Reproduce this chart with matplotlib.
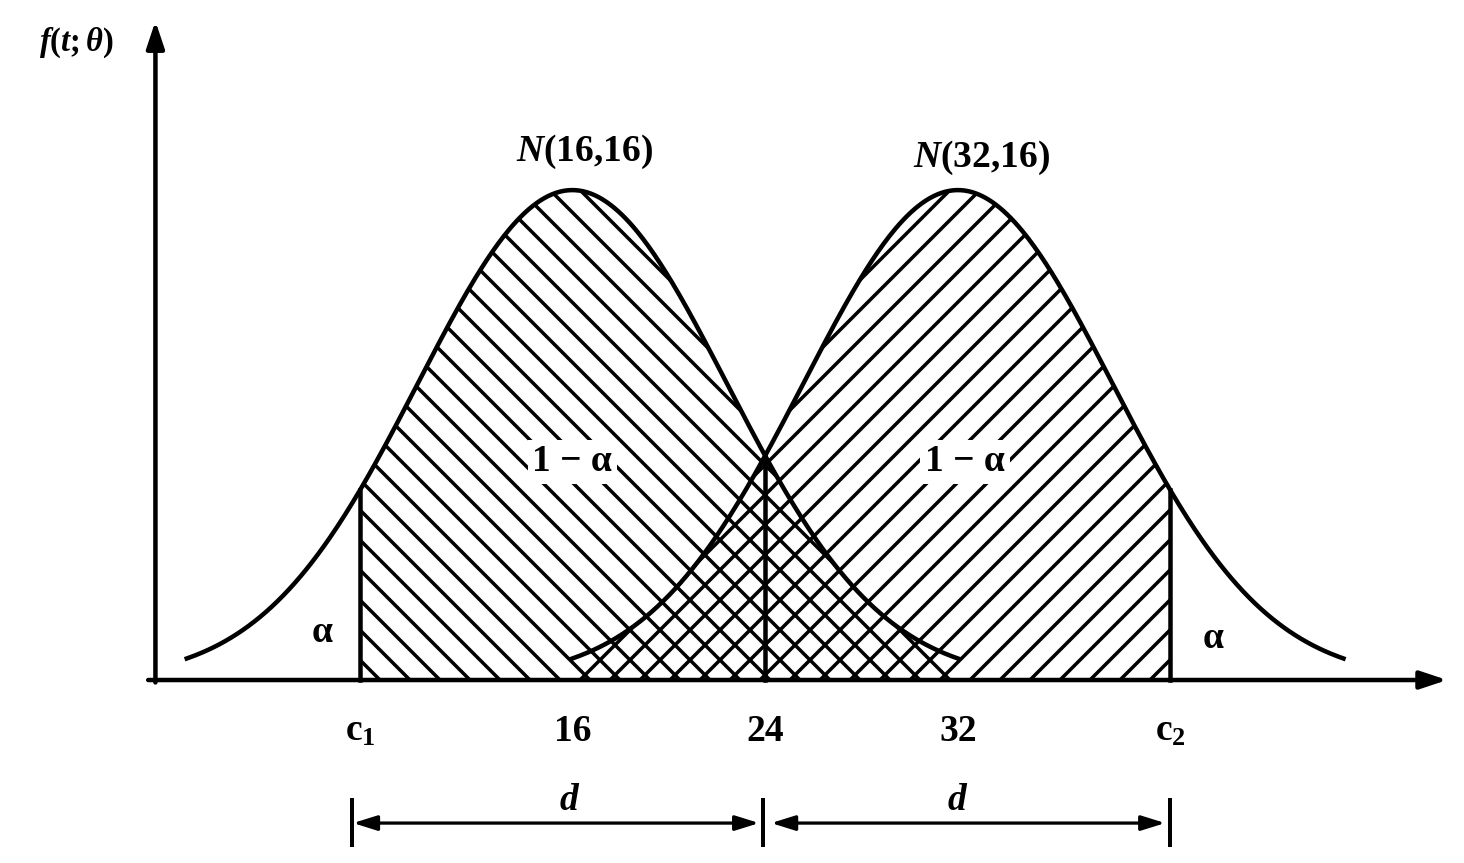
import numpy as np
import matplotlib.pyplot as plt

# the two competing normal models and the cut points
means = [16, 32]
spread = 6.4          # drawn spread of each bell curve
half_span = 16        # each curve is drawn over mean +/- half_span
mid = 24
c1, c2 = 7.2, 40.8
tick_pos = [c1, 16, 24, 32, c2]
tick_text = ['c$_1$', '16', '24', '32', 'c$_2$']
curve_names = ['$N$(16,16)', '$N$(32,16)']

plt.rcParams['font.family'] = ['Liberation Serif', 'DejaVu Serif']
plt.rcParams['font.weight'] = 'bold'
plt.rcParams['mathtext.fontset'] = 'custom'
plt.rcParams['mathtext.rm'] = 'Liberation Serif:bold'
plt.rcParams['mathtext.it'] = 'Liberation Serif:italic:bold'
plt.rcParams['hatch.linewidth'] = 1.4


def dens(x, mu):
    return np.exp(-(x - mu) ** 2 / (2 * spread ** 2)) / (spread * np.sqrt(2 * np.pi))


peak = dens(0, 0)
DPI = 180
fig = plt.figure(figsize=(1464 / DPI, 863 / DPI), dpi=DPI)
ax = fig.add_axes([0, 0, 1, 1])
ax.set_xlim(-7.75, 53.0)
ax.set_ylim(-0.3735 * peak, 1.388 * peak)
ax.axis('off')

lw = 1.8
xl = np.linspace(means[0] - half_span, means[0] + half_span, 400)
xr = np.linspace(means[1] - half_span, means[1] + half_span, 400)

# shaded acceptance regions, overlap ends up cross hatched
xs = xl[xl >= c1]
ax.fill_between(xs, 0, dens(xs, means[0]), facecolor='none', edgecolor='k',
                hatch='\\\\', linewidth=0)
xs = xr[xr <= c2]
ax.fill_between(xs, 0, dens(xs, means[1]), facecolor='none', edgecolor='k',
                hatch='//', linewidth=0)

ax.plot(xl, dens(xl, means[0]), color='k', lw=lw)
ax.plot(xr, dens(xr, means[1]), color='k', lw=lw)

# cut lines
ax.plot([c1, c1], [0, dens(c1, means[0])], color='k', lw=lw)
ax.plot([c2, c2], [0, dens(c2, means[1])], color='k', lw=lw)
ax.plot([mid, mid], [0, dens(mid, means[0])], color='k', lw=lw)

# axes with arrows
arrow = dict(arrowstyle='-|>,head_length=0.9,head_width=0.3', color='k', lw=lw,
             shrinkA=0, shrinkB=0)
ax.annotate('', xy=(52.3, 0), xytext=(-1.6, 0), arrowprops=arrow)
ax.annotate('', xy=(-1.3, 1.345 * peak), xytext=(-1.3, -0.005 * peak), arrowprops=arrow)
ax.text(-4.6, 1.30 * peak, r'$f(t;\theta)$', fontsize=13, ha='center', va='center')

fs = 15
for x, t in zip(tick_pos, tick_text):
    ax.text(x, -0.105 * peak, t, fontsize=fs, ha='center', va='center')

ax.text(16.5, 1.078 * peak, curve_names[0], fontsize=fs, ha='center', va='center')
ax.text(33.0, 1.065 * peak, curve_names[1], fontsize=fs, ha='center', va='center')

box = dict(facecolor='white', edgecolor='none', pad=2)
ax.text(16.0, 0.445 * peak, '1 − α', fontsize=fs, ha='center', va='center', bbox=box)
ax.text(32.3, 0.445 * peak, '1 − α', fontsize=fs, ha='center', va='center', bbox=box)
ax.text(c1 - 1.6, 0.098 * peak, 'α', fontsize=fs, ha='center', va='center')
ax.text(c2 + 1.8, 0.085 * peak, 'α', fontsize=fs, ha='center', va='center')

# distance markers d below the axis
dim = dict(arrowstyle='<|-|>,head_length=0.8,head_width=0.25', color='k', lw=1.3,
           shrinkA=0, shrinkB=0)
ya = -0.292 * peak
ax.annotate('', xy=(mid - 0.25, ya), xytext=(c1 - 0.3, ya), arrowprops=dim)
ax.annotate('', xy=(c2 - 0.2, ya), xytext=(mid + 0.25, ya), arrowprops=dim)
for x in [c1 - 0.35, mid - 0.1, c2 + 0.0]:
    ax.plot([x, x], [-0.245 * peak, -0.337 * peak], color='k', lw=1.6)
ax.text(15.9, -0.245 * peak, '$d$', fontsize=fs, ha='center', va='center')
ax.text(32.0, -0.245 * peak, '$d$', fontsize=fs, ha='center', va='center')

fig.savefig('out.png', dpi=DPI)
